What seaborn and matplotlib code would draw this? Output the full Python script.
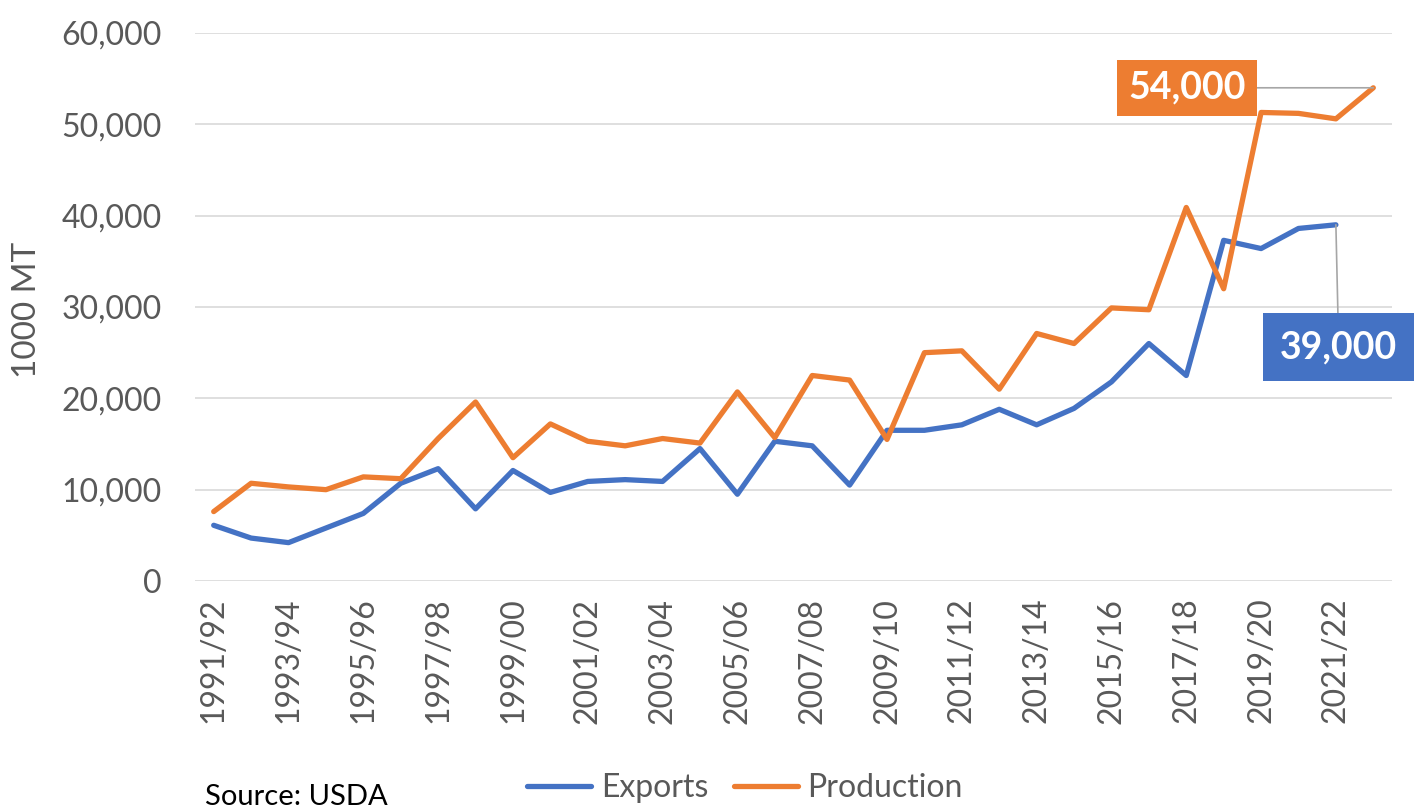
import numpy as np
import pandas as pd
import matplotlib
matplotlib.use("Agg")
import matplotlib.pyplot as plt
import seaborn as sns

# marketing years on the x axis
seasons = [f"{y}/{str(y + 1)[-2:]}" for y in range(1991, 2023)]

# 1000 MT
exports = [6100, 4700, 4200, 5800, 7400, 10700, 12300, 7900, 12100, 9700,
           10900, 11100, 10900, 14500, 9500, 15300, 14800, 10500, 16500, 16500,
           17100, 18800, 17100, 18900, 21800, 26000, 22500, 37300, 36400, 38600,
           39000, np.nan]
production = [7600, 10700, 10300, 10000, 11400, 11200, 15600, 19600, 13500, 17200,
              15300, 14800, 15600, 15100, 20700, 15700, 22500, 22000, 15500, 25000,
              25200, 21000, 27100, 26000, 29900, 29700, 40900, 32000, 51300, 51200,
              50600, 54000]

series_names = ["Exports", "Production"]
colors = ["#4472C4", "#ED7D31"]
yticks = [0, 10000, 20000, 30000, 40000, 50000, 60000]

df = pd.DataFrame({
    "idx": list(range(len(seasons))) * 2,
    "season": seasons * 2,
    "series": ["Exports"] * len(seasons) + ["Production"] * len(seasons),
    "value": exports + production,
})

sns.set_theme(style="white")
plt.rcParams["font.family"] = ["Lato", "DejaVu Sans"]

grey = "#595959"
fig = plt.figure(figsize=(14.18, 8.11), dpi=100)
ax = fig.add_axes([195 / 1418, 1 - 581 / 811, 1197 / 1418, 548 / 811])

sns.lineplot(data=df, x="idx", y="value", hue="series", hue_order=series_names,
             palette=colors, linewidth=3.8, ax=ax, legend=True, sort=False)

ax.set_xlim(-0.5, len(seasons) - 0.5)
ax.set_ylim(0, 60000)
ax.set_yticks(yticks)
ax.set_yticklabels([f"{v:,}" for v in yticks])
ax.set_xticks(range(0, len(seasons), 2))
ax.set_xticklabels(seasons[::2], rotation=90)
ax.tick_params(axis="y", length=0, pad=24, labelsize=23, labelcolor=grey)
ax.tick_params(axis="x", length=0, pad=12, labelsize=23, labelcolor=grey)
ax.set_xlabel("")
ax.set_ylabel("1000 MT", fontsize=24, color=grey)
ax.yaxis.set_label_coords(-0.128, 0.495)

ax.grid(axis="y", color="#D9D9D9", linewidth=1.2)
ax.grid(axis="x", visible=False)
for sp in ax.spines.values():
    sp.set_visible(False)

# data callouts
last_prod = len(production) - 1
last_exp = max(i for i, v in enumerate(exports) if not np.isnan(v))
ax.annotate(f"{production[last_prod]:,.0f}", xy=(last_prod, production[last_prod]),
            xytext=(-134, 0), textcoords="offset points", ha="center", va="center",
            fontsize=27, fontweight="bold", color="white",
            bbox=dict(boxstyle="square,pad=0.3", fc=colors[1], ec="none"),
            arrowprops=dict(arrowstyle="-", color="#A6A6A6", lw=1.2,
                            shrinkA=0, shrinkB=0))
ax.annotate(f"{exports[last_exp]:,.0f}", xy=(last_exp, exports[last_exp]),
            xytext=(2, -88), textcoords="offset points", ha="center", va="center",
            fontsize=27, fontweight="bold", color="white",
            bbox=dict(boxstyle="square,pad=0.45", fc=colors[0], ec="none"),
            arrowprops=dict(arrowstyle="-", color="#A6A6A6", lw=1.2,
                            shrinkA=0, shrinkB=0))

handles, labels = ax.get_legend_handles_labels()
ax.get_legend().remove()
leg = fig.legend(handles, labels, loc="center", bbox_to_anchor=(745 / 1418, 1 - 788 / 811),
                 ncol=2, frameon=False, fontsize=23, handlelength=2.0,
                 handletextpad=0.3, columnspacing=0.8)
for t in leg.get_texts():
    t.set_color(grey)

fig.text(205 / 1418, 1 - 797 / 811, "Source: USDA", fontsize=21, color="black",
         ha="left", va="center")

fig.savefig("out.png", dpi=100)
